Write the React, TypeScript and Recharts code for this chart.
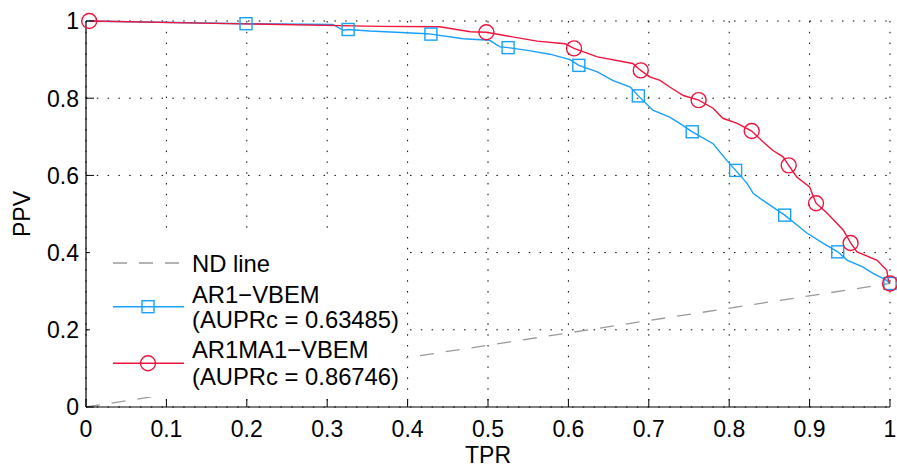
import React from 'react';
import { LineChart, Line, XAxis, YAxis, CartesianGrid, Legend, Label } from 'recharts';

const xTicks = [0, 0.1, 0.2, 0.3, 0.4, 0.5, 0.6, 0.7, 0.8, 0.9, 1];
const yTicks = [0, 0.2, 0.4, 0.6, 0.8, 1];
const xTickLabels = ['0', '0.1', '0.2', '0.3', '0.4', '0.5', '0.6', '0.7', '0.8', '0.9', '1'];
const yTickLabels = ['0', '0.2', '0.4', '0.6', '0.8', '1'];

const ndTpr = [0, 1];
const ndPpv = [0, 0.32];

const ar1Tpr = [0, 0.199, 0.307, 0.32, 0.326, 0.353, 0.424, 0.429, 0.469, 0.502, 0.515, 0.525, 0.549, 0.577, 0.602, 0.613, 0.636, 0.655, 0.677, 0.687, 0.705, 0.726, 0.739, 0.754, 0.78, 0.797, 0.808, 0.822, 0.83, 0.847, 0.869, 0.897, 0.917, 0.935, 0.947, 0.966, 0.979, 0.996, 1.0];
const ar1Ppv = [1.0, 0.993, 0.991, 0.976, 0.978, 0.974, 0.967, 0.966, 0.954, 0.95, 0.933, 0.931, 0.924, 0.914, 0.9, 0.885, 0.868, 0.846, 0.829, 0.806, 0.769, 0.751, 0.734, 0.713, 0.682, 0.639, 0.613, 0.58, 0.553, 0.528, 0.497, 0.45, 0.424, 0.402, 0.38, 0.363, 0.346, 0.328, 0.32];
const ar1Marks = [1, 4, 7, 11, 15, 19, 23, 26, 30, 33, 38];

const arma1Tpr = [0.004, 0.366, 0.44, 0.478, 0.498, 0.519, 0.561, 0.596, 0.607, 0.636, 0.68, 0.69, 0.701, 0.714, 0.726, 0.743, 0.762, 0.78, 0.792, 0.81, 0.828, 0.842, 0.854, 0.867, 0.874, 0.884, 0.9, 0.908, 0.922, 0.942, 0.951, 0.959, 0.984, 0.996, 0.998, 1.0];
const arma1Ppv = [1.0, 0.986, 0.985, 0.972, 0.971, 0.963, 0.948, 0.941, 0.929, 0.907, 0.89, 0.872, 0.855, 0.846, 0.829, 0.807, 0.795, 0.774, 0.748, 0.735, 0.715, 0.687, 0.665, 0.648, 0.626, 0.596, 0.57, 0.528, 0.502, 0.458, 0.425, 0.402, 0.38, 0.354, 0.328, 0.32];
const arma1Marks = [0, 4, 8, 11, 16, 20, 24, 27, 30, 35];

const seriesNames = ['ND line', 'AR1\u2212VBEM', 'AR1MA1\u2212VBEM'];
const aucLabels = ['', '(AUPRc = 0.63485)', '(AUPRc = 0.86746)'];

const BLUE = '#19a0fa';
const RED = '#f0143c';
const GREY = '#9a9a9a';
const FONT = '"Liberation Sans", Arial, sans-serif';

const build = (xs: number[], ys: number[], marks: number[]) =>
  xs.map((x, i) => ({ x, y: ys[i], m: marks.includes(i) }));

const ndData = build(ndTpr, ndPpv, []);
const ar1Data = build(ar1Tpr, ar1Ppv, ar1Marks);
const arma1Data = build(arma1Tpr, arma1Ppv, arma1Marks);

const squareDot = (p: any) => {
  if (!p.payload || !p.payload.m) return <g key={`s${p.index}`} />;
  return (
    <rect key={`s${p.index}`} x={p.cx - 6} y={p.cy - 6} width={12} height={12} fill="none" stroke={BLUE} strokeWidth={1.4} />
  );
};

const circleDot = (p: any) => {
  if (!p.payload || !p.payload.m) return <g key={`c${p.index}`} />;
  return <circle key={`c${p.index}`} cx={p.cx} cy={p.cy} r={7.5} fill="none" stroke={RED} strokeWidth={1.4} />;
};

const XTick = (props: any) => {
  const { x, y, payload } = props;
  const idx = xTicks.indexOf(payload.value);
  return (
    <g>
      <line x1={x} x2={x} y1={y} y2={y - 8} stroke="#000" strokeWidth={1} />
      <text x={x} y={y + 29.5} textAnchor="middle" fontSize={23} fontFamily={FONT} fill="#000">
        {idx >= 0 ? xTickLabels[idx] : String(payload.value)}
      </text>
    </g>
  );
};

const YTick = (props: any) => {
  const { x, y, payload } = props;
  const idx = yTicks.indexOf(payload.value);
  return (
    <g>
      <line x1={x} x2={x + 8} y1={y} y2={y} stroke="#000" strokeWidth={1} />
      <text x={x - 7} y={y + 8.3} textAnchor="end" fontSize={23} fontFamily={FONT} fill="#000">
        {idx >= 0 ? yTickLabels[idx] : String(payload.value)}
      </text>
    </g>
  );
};

const LFS = 23.8;

const LegendBox = () => (
  <svg width={316} height={163} style={{ display: 'block', overflow: 'visible' }}>
    <rect x={0} y={0} width={316} height={163} fill="#fff" />
    <line x1={23} x2={94} y1={29} y2={29} stroke={GREY} strokeWidth={1.3} strokeDasharray="14 12" />
    <text x={102} y={37.7} fontSize={LFS} fontFamily={FONT} fill="#000">{seriesNames[0]}</text>

    <line x1={23} x2={94} y1={72.7} y2={72.7} stroke={BLUE} strokeWidth={1.4} />
    <rect x={52} y={66.7} width={12} height={12} fill="none" stroke={BLUE} strokeWidth={1.4} />
    <text x={102} y={69.3} fontSize={LFS} fontFamily={FONT} fill="#000">{seriesNames[1]}</text>
    <text x={102} y={94.3} fontSize={LFS} fontFamily={FONT} fill="#000">{aucLabels[1]}</text>

    <line x1={23} x2={94} y1={129.3} y2={129.3} stroke={RED} strokeWidth={1.4} />
    <circle cx={58} cy={129.3} r={7.5} fill="none" stroke={RED} strokeWidth={1.4} />
    <text x={102} y={124.3} fontSize={LFS} fontFamily={FONT} fill="#000">{seriesNames[2]}</text>
    <text x={102} y={151} fontSize={LFS} fontFamily={FONT} fill="#000">{aucLabels[2]}</text>
  </svg>
);

export default function App() {
  return (
    <div style={{ position: 'absolute', left: 0, top: 0, background: '#fff' }}>
      <LineChart width={897} height={466} margin={{ top: 21, right: 7, left: 0, bottom: 0 }}>
        <CartesianGrid stroke="#000" strokeDasharray="1.5 9.3" strokeWidth={1} horizontalValues={yTicks} verticalValues={xTicks} />
        <XAxis
          type="number"
          dataKey="x"
          domain={[0, 1]}
          ticks={xTicks}
          height={59}
          tickSize={0}
          tickMargin={0}
          tickLine={false}
          axisLine={{ stroke: '#000', strokeWidth: 1.2 }}
          tick={<XTick />}
          interval={0}
        >
          <Label
            content={(p: any) => {
              const vb = p.viewBox;
              return (
                <text x={vb.x + vb.width / 2} y={vb.y + 55.5} textAnchor="middle" fontSize={23} fontFamily={FONT} fill="#000">
                  TPR
                </text>
              );
            }}
          />
        </XAxis>
        <YAxis
          type="number"
          dataKey="y"
          domain={[0, 1]}
          ticks={yTicks}
          width={86}
          tickSize={0}
          tickMargin={0}
          tickLine={false}
          axisLine={{ stroke: '#000', strokeWidth: 1.2 }}
          tick={<YTick />}
          interval={0}
        >
          <Label
            content={(p: any) => {
              const vb = p.viewBox;
              const cx = 30;
              const cy = vb.y + vb.height / 2;
              return (
                <text x={cx} y={cy} transform={`rotate(-90, ${cx}, ${cy})`} textAnchor="middle" fontSize={23} fontFamily={FONT} fill="#000">
                  PPV
                </text>
              );
            }}
          />
        </YAxis>
        <Line data={ndData} dataKey="y" name={seriesNames[0]} stroke={GREY} strokeWidth={1.3} strokeDasharray="14 12" dot={false} activeDot={false} isAnimationActive={false} />
        <Line data={ar1Data} dataKey="y" name={seriesNames[1]} stroke={BLUE} strokeWidth={1.4} dot={squareDot} activeDot={false} isAnimationActive={false} />
        <Line data={arma1Data} dataKey="y" name={seriesNames[2]} stroke={RED} strokeWidth={1.4} dot={circleDot} activeDot={false} isAnimationActive={false} />
        <Legend
          layout="horizontal"
          verticalAlign="middle"
          align="center"
          content={() => <LegendBox />}
          wrapperStyle={{ position: 'absolute', left: 90, top: 234, width: 316, height: 163 }}
        />
      </LineChart>
    </div>
  );
}
